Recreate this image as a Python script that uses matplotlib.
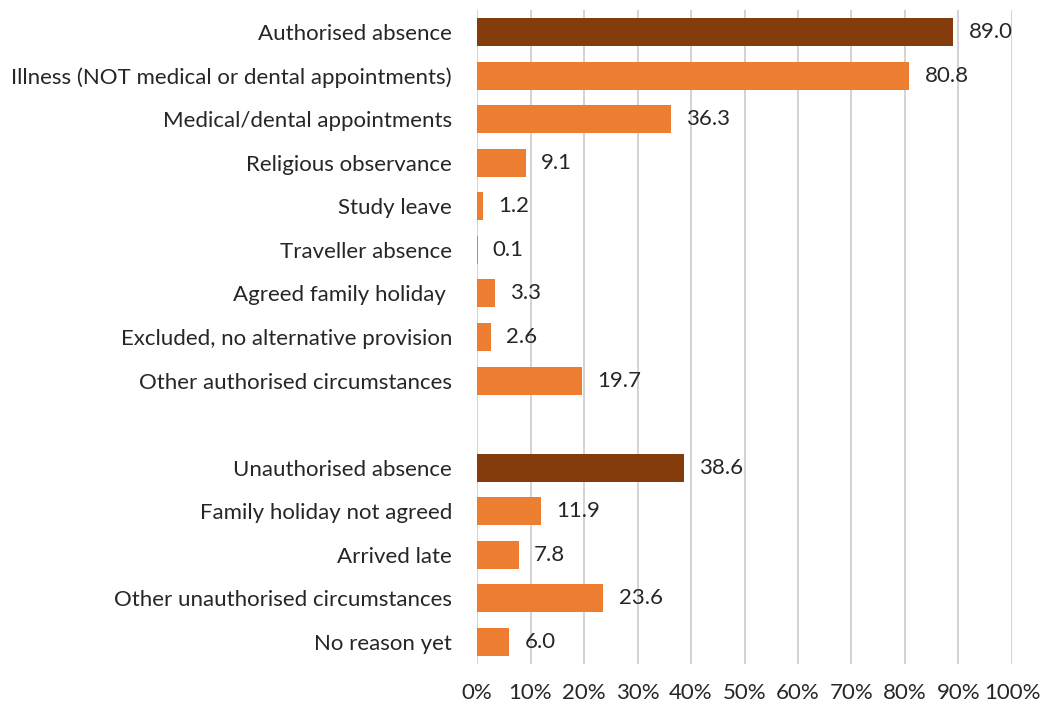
import numpy as np
import matplotlib
matplotlib.use("Agg")
import matplotlib.pyplot as plt

# Reasons for absence, in chart order (blank row separates the two groups)
authorised_labels = [
    "Authorised absence",
    "Illness (NOT medical or dental appointments)",
    "Medical/dental appointments",
    "Religious observance",
    "Study leave",
    "Traveller absence",
    "Agreed family holiday ",
    "Excluded, no alternative provision",
    "Other authorised circumstances",
]
authorised_values = [89.0, 80.8, 36.3, 9.1, 1.2, 0.1, 3.3, 2.6, 19.7]

unauthorised_labels = [
    "Unauthorised absence",
    "Family holiday not agreed",
    "Arrived late",
    "Other unauthorised circumstances",
    "No reason yet",
]
unauthorised_values = [38.6, 11.9, 7.8, 23.6, 6.0]

x_ticks = list(range(0, 101, 10))

DARK = "#843C0C"
LIGHT = "#ED7D31"
FS = 16

plt.rcParams["font.family"] = ["Lato", "DejaVu Sans"]

labels = authorised_labels + [""] + unauthorised_labels
values = authorised_values + [np.nan] + unauthorised_values
colors = ([DARK] + [LIGHT] * (len(authorised_labels) - 1) + [LIGHT]
          + [DARK] + [LIGHT] * (len(unauthorised_labels) - 1))
pos = np.arange(len(labels))

fig = plt.figure(figsize=(10.4, 7.04), dpi=100)
ax = fig.add_axes([477 / 1040, 40.2 / 704, (1012 - 477) / 1040, (663.8 - 10.2) / 704])

mask = ~np.isnan(values)
ax.barh(pos[mask], np.array(values)[mask], height=0.64,
        color=np.array(colors)[mask], zorder=3)

for p, v in zip(pos, values):
    if np.isnan(v):
        continue
    ax.annotate(f"{v:.1f}", (v, p), xytext=(11, 0), textcoords="offset points",
                va="center", ha="left", fontsize=FS, color="#262626")

ax.set_xlim(0, 100)
ax.set_ylim(len(labels) - 0.5, -0.5)
ax.set_xticks(x_ticks)
ax.set_xticklabels([f"{t}%" for t in x_ticks])
ax.set_yticks(pos)
ax.set_yticklabels(labels)
ax.tick_params(axis="y", length=0, pad=18, labelsize=FS, labelcolor="#262626")
ax.tick_params(axis="x", length=0, pad=14, labelsize=FS, labelcolor="#262626")

ax.grid(axis="x", color="#D0D0D0", linewidth=1.3, zorder=0)
for s in ax.spines.values():
    s.set_visible(False)

fig.savefig("out.png", dpi=100)
